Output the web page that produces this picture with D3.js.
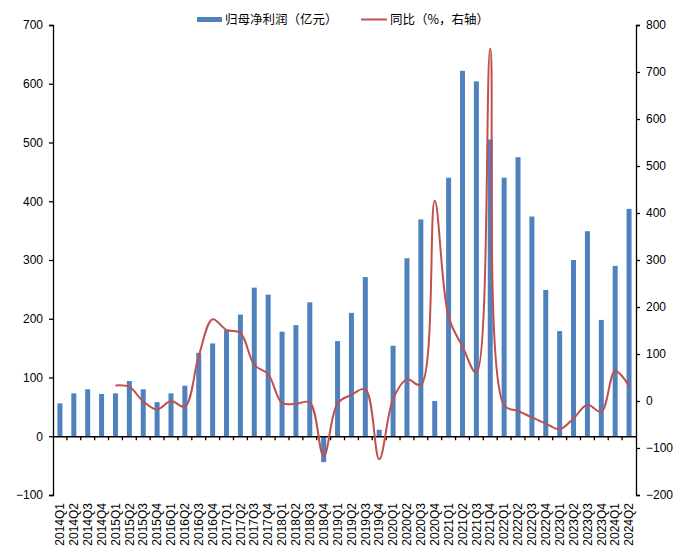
<!DOCTYPE html>
<html>
<head>
<meta charset="utf-8">
<script src="https://cdn.jsdelivr.net/npm/d3@7"></script>
<style>
body { margin: 0; background: #fff; }
svg { display: block; font-family: "Liberation Sans", Arial, sans-serif; }
.axis text { font-size: 12px; fill: #000; }
.axis path, .axis line { stroke: #000; stroke-width: 1.3; }
.legend text { font-family: "Noto Sans CJK SC", sans-serif; font-size: 12.5px; fill: #000; }
</style>
</head>
<body>
<script>
var width = 688;
var height = 547;
var margin = {top: 25, right: 52, bottom: 52, left: 53};

// quarters
var quarters = ["2014Q1","2014Q2","2014Q3","2014Q4","2015Q1","2015Q2","2015Q3","2015Q4",
	"2016Q1","2016Q2","2016Q3","2016Q4","2017Q1","2017Q2","2017Q3","2017Q4",
	"2018Q1","2018Q2","2018Q3","2018Q4","2019Q1","2019Q2","2019Q3","2019Q4",
	"2020Q1","2020Q2","2020Q3","2020Q4","2021Q1","2021Q2","2021Q3","2021Q4",
	"2022Q1","2022Q2","2022Q3","2022Q4","2023Q1","2023Q2","2023Q3","2023Q4",
	"2024Q1","2024Q2"];

// 归母净利润（亿元）
var profit = [56, 73, 80, 72, 73, 94, 80, 58,
	73, 86, 142, 158, 181, 207, 253, 241,
	178, 189, 228, -44, 162, 210, 271, 11,
	154, 303, 369, 60, 440, 622, 604, 505,
	440, 475, 374, 249, 179, 300, 349, 198,
	290, 387];

// 同比（%，右轴）, no value for 2014
var yoy = [null, null, null, null, 33, 30, -1, -18,
	0, -12, 96, 174, 151, 145, 77, 57,
	-4, -6, -3, -118, -5, 13, 25, -124,
	4, 46, 34, 426, 179, 116, 60, 750,
	-9, -21, -35, -48, -60, -37, -8, -23,
	64, 32];

var leftTicks = [-100, 0, 100, 200, 300, 400, 500, 600, 700];
var rightTicks = [-200, -100, 0, 100, 200, 300, 400, 500, 600, 700, 800];

var barColor = "#4f81bd";
var lineColor = "#c0504d";

var svg = d3.select("body").append("svg")
	.attr("width", width)
	.attr("height", height);

var x = d3.scaleBand()
	.domain(quarters)
	.range([margin.left, width - margin.right])
	.padding(0);

var yL = d3.scaleLinear()
	.domain([-100, 700])
	.range([height - margin.bottom, margin.top]);

var yR = d3.scaleLinear()
	.domain([-200, 800])
	.range([height - margin.bottom, margin.top]);

//bars
svg.append("g").selectAll("rect")
	.data(quarters)
	.enter().append("rect")
	.attr("x", function(d) { return x(d) + x.bandwidth() / 2 - 2.5; })
	.attr("width", 5)
	.attr("y", function(d, i) { return yL(Math.max(0, profit[i])); })
	.attr("height", function(d, i) { return Math.abs(yL(profit[i]) - yL(0)); })
	.style("fill", barColor);

//left axis
svg.append("g")
	.attr("class", "axis")
	.attr("transform", "translate(" + margin.left + ",0)")
	.call(d3.axisLeft(yL).tickValues(leftTicks).tickSize(4).tickPadding(6));

//right axis
svg.append("g")
	.attr("class", "axis")
	.attr("transform", "translate(" + (width - margin.right) + ",0)")
	.call(d3.axisRight(yR).tickValues(rightTicks).tickSize(4).tickPadding(6));

//x axis on zero line of left axis
var xAxis = svg.append("g")
	.attr("class", "axis")
	.attr("transform", "translate(0," + yL(0) + ")")
	.call(d3.axisBottom(x).tickSize(0).tickSizeOuter(0));

xAxis.selectAll("text")
	.attr("transform", "rotate(-90)")
	.attr("x", -(height - margin.bottom - yL(0) + 8))
	.attr("y", 0)
	.attr("dy", "0.35em")
	.style("text-anchor", "end");

// ticks between categories
xAxis.selectAll(".sep")
	.data(quarters.slice(1))
	.enter().append("line")
	.attr("class", "sep")
	.attr("x1", function(d) { return x(d); })
	.attr("x2", function(d) { return x(d); })
	.attr("y1", 0)
	.attr("y2", 4);

//yoy line
var line = d3.line()
	.defined(function(d) { return d.v != null; })
	.x(function(d) { return x(d.q) + x.bandwidth() / 2; })
	.y(function(d) { return yR(d.v); })
	.curve(d3.curveCatmullRom.alpha(0.5));

svg.append("path")
	.datum(quarters.map(function(q, i) { return {q: q, v: yoy[i]}; }))
	.attr("d", line)
	.style("fill", "none")
	.style("stroke", lineColor)
	.style("stroke-width", 2);

//legend
var legend = svg.append("g").attr("class", "legend");
legend.append("rect")
	.attr("x", 197).attr("y", 17)
	.attr("width", 25).attr("height", 5)
	.style("fill", barColor);
legend.append("text")
	.attr("x", 225).attr("y", 19.5)
	.attr("dy", "0.35em")
	.text("归母净利润（亿元）");
legend.append("line")
	.attr("x1", 361).attr("x2", 387)
	.attr("y1", 19.5).attr("y2", 19.5)
	.style("stroke", lineColor)
	.style("stroke-width", 2);
legend.append("text")
	.attr("x", 390).attr("y", 19.5)
	.attr("dy", "0.35em")
	.text("同比（%，右轴）");
</script>
</body>
</html>
